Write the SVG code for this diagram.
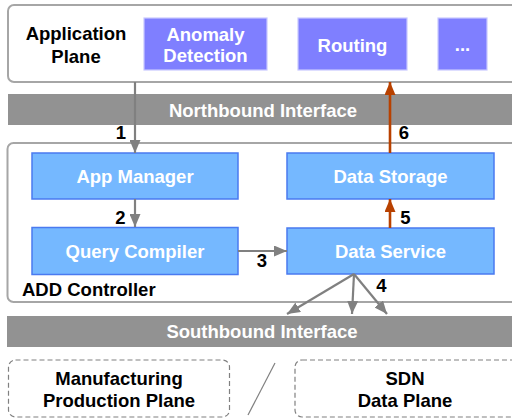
<svg xmlns="http://www.w3.org/2000/svg" width="512" height="419" viewBox="0 0 512 419">
<defs>
<style>
text{font-family:"Liberation Sans",Arial,sans-serif;font-weight:bold;font-size:18.5px;text-anchor:middle}
.w{fill:#ffffff}
.k{fill:#000000}
.frame{fill:#ffffff;stroke:#a6a6a6;stroke-width:2}
.app{fill:#7f7fff;stroke:#c8c8ff;stroke-width:1.2}
.blue{fill:#75b8ff;stroke:#4a7af0;stroke-width:1.5}
.bar{fill:#929292}
.dash{fill:none;stroke:#808080;stroke-width:1.2;stroke-dasharray:5,3}
.ga{stroke:#808080;stroke-width:2.2;fill:none}
.oa{stroke:#b84100;stroke-width:2.6;fill:none}
</style>
<marker id="mg" markerUnits="userSpaceOnUse" markerWidth="13" markerHeight="11" refX="13" refY="5.5" orient="auto"><path d="M0,0 L13,5.5 L0,11 z" fill="#808080"/></marker>
<marker id="mo" markerUnits="userSpaceOnUse" markerWidth="13" markerHeight="11" refX="13" refY="5.5" orient="auto"><path d="M0,0 L13,5.5 L0,11 z" fill="#b84100"/></marker>
</defs>
<g id="application-plane">
<rect class="frame" x="8" y="5" width="520" height="77" rx="6"/>
<text class="k" x="76" y="40">Application</text>
<text class="k" x="76" y="63">Plane</text>
</g>
<g id="anomaly-detection">
<rect class="app" x="144" y="18" width="123" height="52"/>
<text class="w" x="205.5" y="41">Anomaly</text>
<text class="w" x="205.5" y="62">Detection</text>
</g>
<g id="routing">
<rect class="app" x="298" y="18" width="109" height="52"/>
<text class="w" x="352.5" y="52">Routing</text>
</g>
<g id="more-apps">
<rect class="app" x="438" y="18" width="49" height="52"/>
<text class="w" x="462.5" y="51">...</text>
</g>
<g id="northbound-interface">
<rect class="bar" x="8" y="94" width="510" height="31"/>
<text class="w" x="263" y="117">Northbound Interface</text>
</g>
<g id="add-controller">
<rect class="frame" x="7.5" y="143" width="520" height="159" rx="6"/>
<text class="k" x="22" y="296" style="text-anchor:start">ADD Controller</text>
</g>
<g id="app-manager">
<rect class="blue" x="32" y="153" width="206" height="46"/>
<text class="w" x="135" y="183">App Manager</text>
</g>
<g id="data-storage">
<rect class="blue" x="287" y="153" width="207" height="46"/>
<text class="w" x="390.5" y="183">Data Storage</text>
</g>
<g id="query-compiler">
<rect class="blue" x="32" y="227.5" width="206" height="47"/>
<text class="w" x="135" y="258">Query Compiler</text>
</g>
<g id="data-service">
<rect class="blue" x="287" y="228" width="207" height="46"/>
<text class="w" x="390.5" y="258">Data Service</text>
</g>
<g id="southbound-interface">
<rect class="bar" x="7" y="316" width="510" height="31"/>
<text class="w" x="262" y="338">Southbound Interface</text>
</g>
<g id="manufacturing-production-plane">
<rect class="dash" x="8.5" y="360" width="221" height="57" rx="7"/>
<text class="k" x="119" y="385">Manufacturing</text>
<text class="k" x="119" y="407">Production Plane</text>
</g>
<g id="sdn-data-plane">
<rect class="dash" x="295" y="360" width="230" height="57" rx="7"/>
<text class="k" x="405" y="385">SDN</text>
<text class="k" x="405" y="407">Data Plane</text>
</g>
<g id="separator">
<line x1="275" y1="363" x2="248" y2="415" stroke="#808080" stroke-width="1.2"/>
</g>
<g id="connectors">
<line class="ga" x1="135" y1="82" x2="135" y2="153" marker-end="url(#mg)"/>
<text class="k" x="121" y="139">1</text>
<line class="ga" x1="135" y1="199" x2="135" y2="227" marker-end="url(#mg)"/>
<text class="k" x="120.5" y="224">2</text>
<line class="ga" x1="238" y1="251" x2="287" y2="251" marker-end="url(#mg)"/>
<text class="k" x="262" y="267">3</text>
<line class="ga" x1="354" y1="274" x2="287" y2="314" marker-end="url(#mg)"/>
<line class="ga" x1="354" y1="274" x2="352" y2="314" marker-end="url(#mg)"/>
<line class="ga" x1="354" y1="274" x2="387" y2="314" marker-end="url(#mg)"/>
<text class="k" x="381.5" y="292">4</text>
<line class="oa" x1="390" y1="228" x2="390" y2="199" marker-end="url(#mo)"/>
<text class="k" x="405.5" y="224">5</text>
<line class="oa" x1="390" y1="153" x2="390" y2="82" marker-end="url(#mo)"/>
<text class="k" x="404" y="139">6</text>
</g>
</svg>
